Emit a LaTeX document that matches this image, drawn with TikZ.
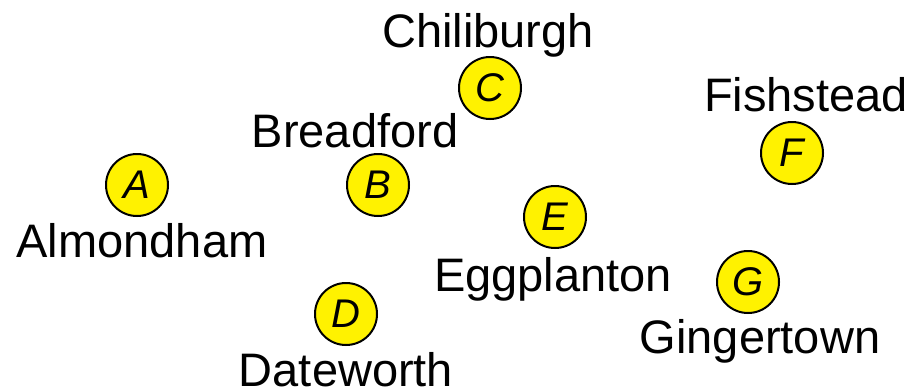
\documentclass[tikz,border=0pt]{standalone}
\usepackage{fontspec}
\setmainfont{Liberation Sans}
\begin{document}
\begin{tikzpicture}[x=0.5pt,y=-0.5pt,
  town/.style={circle,draw=black,line width=1pt,fill=yellow,minimum size=31pt,inner sep=0pt,
    font=\fontsize{20}{24}\selectfont\itshape},
  townname/.style={anchor=base,inner sep=0pt,font=\fontsize{23.5}{28}\selectfont}]
\useasboundingbox (0,0) rectangle (909,386);
% towns
\node[town] (A) at (137,185) {A};
\node[town] (B) at (378,185) {B};
\node[town] (C) at (490,88) {C};
\node[town] (D) at (346,314) {D};
\node[town] (E) at (555,217) {E};
\node[town] (F) at (792,153) {F};
\node[town] (G) at (748,282) {G};
% names
\node[townname] (nA) at (142,257) {Almondham};
\node[townname] (nB) at (355,147) {Breadford};
\node[townname] (nC) at (488,47) {Chiliburgh};
\node[townname] (nD) at (346,386) {Dateworth};
\node[townname] (nE) at (553,291) {Eggplanton};
\node[townname] (nF) at (806,111) {Fishstead};
\node[townname] (nG) at (760,353) {Gingertown};
\end{tikzpicture}
\end{document}
